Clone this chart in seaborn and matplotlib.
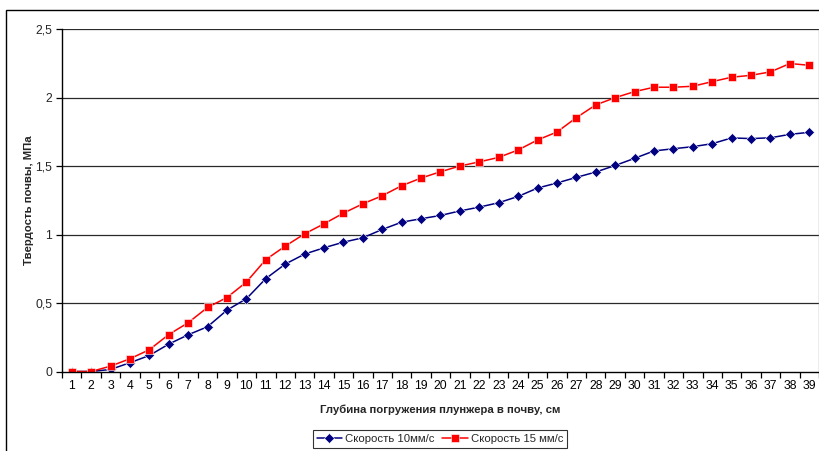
import numpy as np
import pandas as pd
import matplotlib
matplotlib.use("Agg")
import matplotlib.pyplot as plt
from matplotlib.patches import Rectangle
from matplotlib.ticker import FixedLocator, FuncFormatter
import seaborn as sns

# Глубина погружения плунжера, см
depth = list(range(1, 40))

# Твердость почвы, МПа
speed_10 = [0.00, 0.00, 0.015, 0.064, 0.117, 0.20, 0.268, 0.327, 0.448, 0.531,
            0.678, 0.784, 0.857, 0.903, 0.944, 0.976, 1.037, 1.09, 1.115, 1.139,
            1.172, 1.20, 1.232, 1.278, 1.339, 1.376, 1.417, 1.456, 1.504, 1.556,
            1.61, 1.626, 1.641, 1.663, 1.705, 1.70, 1.706, 1.731, 1.746]
speed_15 = [0.00, 0.00, 0.039, 0.093, 0.159, 0.27, 0.356, 0.468, 0.54, 0.653,
            0.817, 0.915, 1.005, 1.078, 1.156, 1.224, 1.283, 1.356, 1.412, 1.458,
            1.50, 1.53, 1.563, 1.617, 1.69, 1.748, 1.853, 1.946, 1.999, 2.043,
            2.075, 2.075, 2.082, 2.116, 2.148, 2.162, 2.187, 2.248, 2.235]

series_names = ["Скорость 10мм/с", "Скорость 15 мм/с"]
y_ticks = [0, 0.5, 1, 1.5, 2, 2.5]

df = pd.DataFrame({
    "depth": depth * 2,
    "value": speed_10 + speed_15,
    "series": [series_names[0]] * len(depth) + [series_names[1]] * len(depth),
})

sns.set_theme(style="white")
plt.rcParams["font.family"] = ["Liberation Sans", "DejaVu Sans"]

fig = plt.figure(figsize=(8.2, 4.51), dpi=100)
ax = fig.add_axes([62 / 820, 1 - 371.5 / 451, (819 - 62) / 820, (371.5 - 29) / 451])

sns.lineplot(
    data=df, x="depth", y="value", hue="series", style="series",
    palette={series_names[0]: "#000080", series_names[1]: "#FF0000"},
    markers={series_names[0]: "D", series_names[1]: "s"},
    dashes=False, markersize=5.5, linewidth=1.1, markeredgewidth=0.4,
    ax=ax, legend=True,
)
for line in ax.lines:
    if line.get_marker() == "D":
        line.set_markersize(5)

ax.set_xlim(0.5, 39.5)
ax.set_ylim(0, 2.5)

# Horizontal grid lines
for yv in y_ticks[1:]:
    ax.axhline(yv, color="#2a2a2a", lw=0.9, zorder=0.5)

# Category ticks between bars, labels at centers
ax.xaxis.set_major_locator(FixedLocator(depth))
ax.xaxis.set_minor_locator(FixedLocator(np.arange(0.5, 40, 1)))
ax.set_xticklabels([str(d) for d in depth])
ax.tick_params(axis="x", which="major", length=0, pad=6, labelsize=8.8, colors="black")
ax.tick_params(axis="x", which="minor", length=4, width=0.9, direction="out", color="black", bottom=True)
ax.set_yticks(y_ticks)
ax.yaxis.set_major_formatter(FuncFormatter(lambda v, p: f"{v:g}".replace(".", ",")))
ax.tick_params(axis="y", length=4, width=0.9, direction="out", color="black", left=True, labelsize=8.8, pad=3)

for s in ["left", "bottom"]:
    ax.spines[s].set_color("black")
    ax.spines[s].set_linewidth(1.0)
ax.spines["top"].set_visible(False)
ax.spines["right"].set_color("#a0a0a0")
ax.spines["right"].set_linewidth(1.0)

ax.set_xlabel("Глубина погружения плунжера в почву, см", fontsize=8.2, fontweight="bold", labelpad=9)
ax.set_ylabel("Твердость почвы, МПа", fontsize=8.2, fontweight="bold", labelpad=1)

handles, labels = ax.get_legend_handles_labels()
ax.legend_.remove()
leg = fig.legend(handles, labels, loc="upper center", bbox_to_anchor=(440 / 820, 1 - 430 / 451),
                 ncol=2, frameon=True, fancybox=False, fontsize=8.2, handlelength=2.2,
                 columnspacing=0.7, handletextpad=0.3, borderpad=0.35, borderaxespad=0)
leg.get_frame().set_edgecolor("black")
leg.get_frame().set_linewidth(0.8)

# Outer chart frame
fig.patches.append(Rectangle((6 / 820, -0.05), 1.0, (451 - 10) / 451 + 0.05,
                             transform=fig.transFigure, fill=False, edgecolor="black", lw=1.0))

fig.savefig("out.png", dpi=100)
